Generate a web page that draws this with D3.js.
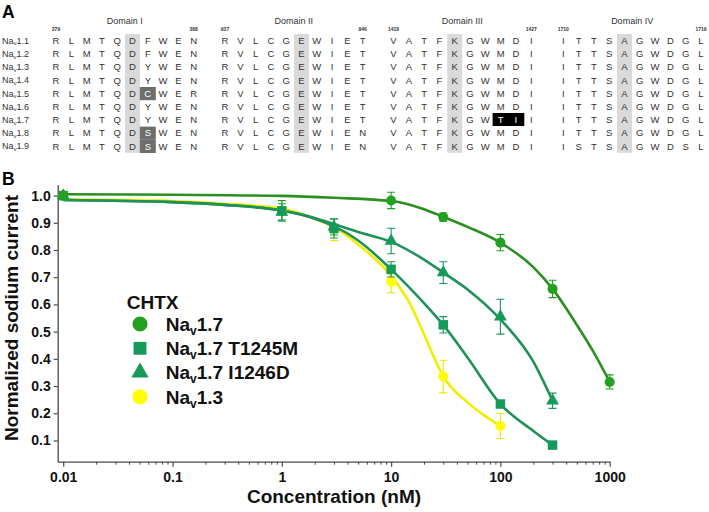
<!DOCTYPE html>
<html><head><meta charset="utf-8">
<script src="https://cdn.jsdelivr.net/npm/d3@7"></script>
<style>
html,body{margin:0;padding:0;background:#fff;}
svg{display:block;font-family:"Liberation Sans",Arial,Helvetica,sans-serif;}
</style></head>
<body><svg id="c" width="709" height="512"></svg>
<script>
// ---------------- Panel A data ----------------
const isoforms = ["1.1","1.2","1.3","1.4","1.5","1.6","1.7","1.8","1.9"];
const domainNames = ["Domain I","Domain II","Domain III","Domain IV"];
const domainStartNum = ["379","937","1418","1710"];
const domainEndNum = ["388","946","1427","1719"];
const domI = ["RLMTQDFWEN","RLMTQDFWEN","RLMTQDYWEN","RLMTQDYWEN","RLMTQDCWER","RLMTQDYWEN","RLMTQDYWEN","RLMTQDSWEN","RLMTQDSWEN"];
const domII = ["RVLCGEWIET","RVLCGEWIET","RVLCGEWIET","RVLCGEWIET","RVLCGEWIET","RVLCGEWIET","RVLCGEWIET","RVLCGEWIEN","RVLCGEWIEN"];
const domIII = ["VATFKGWMDI","VATFKGWMDI","VATFKGWMDI","VATFKGWMDI","VATFKGWMDI","VATFKGWMDI","VATFKGWTII","VATFKGWMDI","VATFKGWMDI"];
const domIV = ["ITTSAGWDGL","ITTSAGWDGL","ITTSAGWDGL","ITTSAGWDGL","ITTSAGWDGL","ITTSAGWDGL","ITTSAGWDGL","ITTSAGWDGL","ISTSAGWDSL"];
// conserved column (light gray) per domain
const conservedCol = [5,5,4,4];
// dark gray cells: [domain, row, col]
const darkCells = [[0,4,6],[0,7,6],[0,8,6]];
// black cells: [domain, row, col]
const blackCells = [[2,6,7],[2,6,8]];

// ---------------- Panel B data ----------------
const nav17X = [0.01, 10, 30, 100, 300, 1000];
const nav17Y = [1.0, 0.982, 0.921, 0.827, 0.657, 0.315];
const nav17Err = [0.015, 0.03, 0.015, 0.03, 0.032, 0.026];
const t1245mX = [0.01, 1, 3, 10, 30, 100, 300];
const t1245mY = [1.0, 0.944, 0.879, 0.729, 0.525, 0.234, 0.083];
const t1245mErr = [0.01, 0.038, 0.035, 0.028, 0.03, 0.01, 0.008];
const i1246dX = [0.01, 1, 3, 10, 30, 100, 300];
const i1246dY = [1.0, 0.94, 0.885, 0.833, 0.717, 0.555, 0.246];
const i1246dErr = [0.01, 0.03, 0.03, 0.047, 0.04, 0.064, 0.028];
const nav13X = [0.01, 1, 3, 10, 30, 100];
const nav13Y = [1.0, 0.945, 0.875, 0.683, 0.335, 0.153];
const nav13Err = [0.01, 0.035, 0.04, 0.04, 0.06, 0.046];
// fitted curves
const nav17FitX = [0.01, 0.1, 1, 3, 10, 20, 30, 50, 100, 200, 300, 500, 700, 1000];
const nav17FitY = [1.005, 1.003, 0.999, 0.992, 0.98, 0.95, 0.922, 0.885, 0.827, 0.737, 0.657, 0.525, 0.43, 0.315];
const t1245mFitX = [0.01, 0.1, 0.3, 1, 2, 3, 5, 10, 20, 30, 50, 100, 200, 300];
const t1245mFitY = [0.984, 0.976, 0.966, 0.945, 0.915, 0.888, 0.835, 0.729, 0.605, 0.525, 0.405, 0.234, 0.135, 0.083];
const i1246dFitX = [0.01, 0.1, 0.3, 1, 2, 3, 5, 10, 20, 30, 50, 100, 200, 300];
const i1246dFitY = [0.984, 0.976, 0.966, 0.945, 0.918, 0.895, 0.866, 0.83, 0.765, 0.717, 0.655, 0.545, 0.39, 0.246];
const nav13FitX = [0.01, 0.1, 0.3, 1, 2, 3, 5, 10, 15, 20, 30, 50, 70, 100];
const nav13FitY = [0.986, 0.98, 0.97, 0.952, 0.915, 0.885, 0.82, 0.705, 0.60, 0.49, 0.335, 0.24, 0.194, 0.153];
const yTicks = [0.1,0.2,0.3,0.4,0.5,0.6,0.7,0.8,0.9,1.0];
const xMajorTicks = [0.01, 0.1, 1, 10, 100, 1000];
const legendTitle = "CHTX";
const legendLabels = [["Na","v","1.7"],["Na","v","1.7 T1245M"],["Na","v","1.7 I1246D"],["Na","v","1.3"]];

const svg = d3.select("#c");

// ================= Panel A =================
svg.append("text").attr("x",2).attr("y",18).attr("font-size",17.5).attr("font-weight","bold").text("A");
const domains = [domI, domII, domIII, domIV];
const domStartX = [56, 225, 393.5, 563.3];
const colStep = 15.3;
const rowY0 = 40.6, rowStep = 13.2;
const colX = (d,c) => domStartX[d] + c*colStep;
const rowY = r => rowY0 + r*rowStep;
const gA = svg.append("g");
conservedCol.forEach((c,d)=>{
  gA.append("rect").attr("x",colX(d,c)-7.5).attr("y",rowY(0)-6.6).attr("width",15).attr("height",rowStep*9)
    .attr("fill","#d9d9d9");
});
darkCells.forEach(([d,r,c])=>{
  gA.append("rect").attr("x",colX(d,c)-8).attr("y",rowY(r)-6.4).attr("width",16).attr("height",rowStep)
    .attr("fill","#6e6e6e");
});
blackCells.forEach(([d,r,c])=>{
  gA.append("rect").attr("x",colX(d,c)-8).attr("y",rowY(r)-6.8).attr("width",16.4).attr("height",13)
    .attr("fill","#000");
});
const isWhite = (d,r,c) => darkCells.some(e=>e[0]===d&&e[1]===r&&e[2]===c) || blackCells.some(e=>e[0]===d&&e[1]===r&&e[2]===c);
domains.forEach((seqs,d)=>{
  const cx = (colX(d,0)+colX(d,9))/2;
  gA.append("text").attr("x",cx).attr("y",24).attr("text-anchor","middle").attr("font-size",9).attr("fill","#333").text(domainNames[d]);
  gA.append("text").attr("x",colX(d,0)).attr("y",31).attr("text-anchor","middle").attr("font-size",5).attr("font-weight","bold").attr("fill","#333").text(domainStartNum[d]);
  gA.append("text").attr("x",colX(d,9)).attr("y",31).attr("text-anchor","middle").attr("font-size",5).attr("font-weight","bold").attr("fill","#333").text(domainEndNum[d]);
  seqs.forEach((s,r)=>{
    s.split("").forEach((ch,c)=>{
      gA.append("text").attr("x",colX(d,c)).attr("y",rowY(r)+3.4).attr("text-anchor","middle")
        .attr("font-size",9.5).attr("fill", isWhite(d,r,c)?"#fff":"#333").text(ch);
    });
  });
});
isoforms.forEach((iso,r)=>{
  const t = gA.append("text").attr("x",2).attr("y",rowY(r)+3.2).attr("font-size",9).attr("fill","#333");
  t.append("tspan").text("Na");
  t.append("tspan").attr("font-size",6).attr("dy",1.5).text("v");
  t.append("tspan").attr("dy",-1.5).text(iso);
});

// ================= Panel B =================
svg.append("text").attr("x",2).attr("y",185).attr("font-size",17.5).attr("font-weight","bold").text("B");
const x = d3.scaleLog().domain([0.0089, 1000]).range([57.7, 609.7]);
const y = d3.scaleLinear().domain([0.022, 1.04]).range([461.7, 184.7]);
const axisColor = "#4a4a4a";

const gy = svg.append("g").attr("transform","translate(57.7,0)")
  .call(d3.axisLeft(y).tickValues(yTicks).tickFormat(d3.format(".1f")).tickSize(4).tickSizeOuter(0));
gy.select(".domain").attr("stroke",axisColor).attr("stroke-width",1.3);
gy.selectAll(".tick line").attr("stroke",axisColor).attr("stroke-width",1.2);
gy.selectAll(".tick text").attr("font-size",14).attr("font-weight","bold").attr("fill","#111")
  .attr("font-family","Liberation Sans, Arial, sans-serif").attr("x",-7);

const minorTicks = [];
[0.01,0.1,1,10,100].forEach(dec=>{ for(let k=2;k<=9;k++) minorTicks.push(dec*k); });
const gx = svg.append("g").attr("transform","translate(0,461.7)")
  .call(d3.axisBottom(x).tickValues(xMajorTicks).tickFormat(d=>String(d)).tickSize(5).tickSizeOuter(0));
gx.select(".domain").attr("stroke",axisColor).attr("stroke-width",1.3);
gx.selectAll(".tick line").attr("stroke",axisColor).attr("stroke-width",1.2);
gx.selectAll(".tick text").attr("font-size",14).attr("font-weight","bold").attr("fill","#111")
  .attr("font-family","Liberation Sans, Arial, sans-serif").attr("y",10);
const gxm = svg.append("g").attr("transform","translate(0,461.7)")
  .call(d3.axisBottom(x).tickValues(minorTicks).tickFormat("").tickSize(3).tickSizeOuter(0));
gxm.select(".domain").remove();
gxm.selectAll(".tick line").attr("stroke",axisColor).attr("stroke-width",1);

svg.append("text").attr("transform","translate(18,318) rotate(-90)").attr("text-anchor","middle")
  .attr("font-size",19).attr("font-weight","bold").attr("fill","#111").text("Normalized sodium current");
svg.append("text").attr("x",334).attr("y",503).attr("text-anchor","middle")
  .attr("font-size",19).attr("font-weight","bold").attr("fill","#111").text("Concentration (nM)");

const cNav17 = "#23a021", lNav17 = "#2b8f22";
const cMut = "#17995a", lMut = "#1f9159";
const cNav13 = "#ffff00", lNav13 = "#f2ee00", eNav13 = "#ede600";
const series = [
  {xs:nav13X, ys:nav13Y, es:nav13Err, fx:nav13FitX, fy:nav13FitY, sym:d3.symbolCircle, size:80, fill:cNav13, line:lNav13, err:eNav13},
  {xs:i1246dX, ys:i1246dY, es:i1246dErr, fx:i1246dFitX, fy:i1246dFitY, sym:d3.symbolTriangle, size:72, fill:cMut, line:lMut, err:cMut},
  {xs:t1245mX, ys:t1245mY, es:t1245mErr, fx:t1245mFitX, fy:t1245mFitY, sym:d3.symbolSquare, size:90, fill:cMut, line:lMut, err:cMut},
  {xs:nav17X, ys:nav17Y, es:nav17Err, fx:nav17FitX, fy:nav17FitY, sym:d3.symbolCircle, size:80, fill:cNav17, line:lNav17, err:cNav17}
];
const lineGen = d3.line().x(d=>x(d[0])).y(d=>y(d[1])).curve(d3.curveMonotoneX);
const gc = svg.append("g");
series.forEach(s=>{
  gc.append("path").datum(s.fx.map((v,i)=>[v,s.fy[i]])).attr("d",lineGen)
    .attr("fill","none").attr("stroke",s.line).attr("stroke-width",2.6).attr("stroke-linejoin","round");
});
const gm = svg.append("g");
series.forEach(s=>{
  const pts = s.xs.map((v,i)=>({x:v,y:s.ys[i],e:s.es[i]}));
  const g = gm.append("g");
  g.selectAll("path.eb").data(pts).join("path").attr("class","eb")
    .attr("d",d=>{const xx=x(d.x), y1=y(d.y+d.e), y2=y(d.y-d.e);
      return `M${xx-4},${y1}H${xx+4}M${xx},${y1}V${y2}M${xx-4},${y2}H${xx+4}`;})
    .attr("stroke",s.err).attr("stroke-width",1.1).attr("fill","none");
  g.selectAll("path.mk").data(pts).join("path").attr("class","mk")
    .attr("transform",d=>`translate(${x(d.x)},${y(d.y)})`)
    .attr("d",d3.symbol().type(s.sym).size(s.size)).attr("fill",s.fill);
});

const gl = svg.append("g");
gl.append("text").attr("x",126.7).attr("y",308.5).attr("font-size",19).attr("font-weight","bold").attr("fill","#111").text(legendTitle);
const legSyms = [[d3.symbolCircle,180,cNav17],[d3.symbolSquare,165,cMut],[d3.symbolTriangle,130,cMut],[d3.symbolCircle,180,cNav13]];
const legY = [324, 348.3, 372.6, 396.8];
legendLabels.forEach((lab,i)=>{
  gl.append("path").attr("transform",`translate(140,${legY[i]})`).attr("d",d3.symbol().type(legSyms[i][0]).size(legSyms[i][1])).attr("fill",legSyms[i][2]);
  const t = gl.append("text").attr("x",165.7).attr("y",legY[i]+6.8).attr("font-size",19).attr("font-weight","bold").attr("fill","#111");
  t.append("tspan").text(lab[0]);
  t.append("tspan").attr("font-size",12).attr("dy",4).text(lab[1]);
  t.append("tspan").attr("dy",-4).text(lab[2]);
});
</script>
</body></html>
